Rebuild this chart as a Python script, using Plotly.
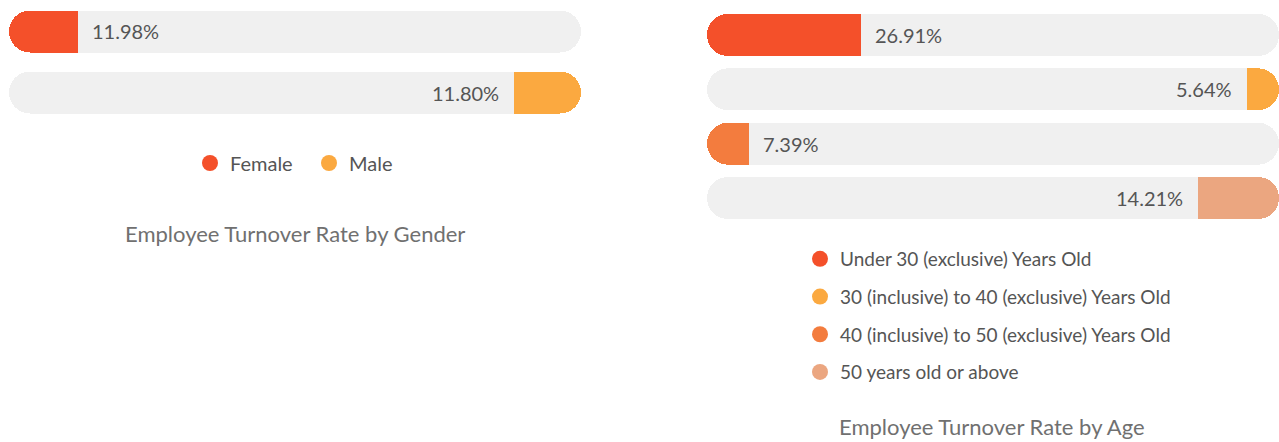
import plotly.graph_objects as go

# ---- data ----
gender_cats = ["Female", "Male"]
gender_vals = [11.98, 11.80]
gender_side = ["left", "right"]
gender_colors = ["#F4502A", "#FBA940"]

age_cats = [
    "Under 30 (exclusive) Years Old",
    "30 (inclusive) to 40 (exclusive) Years Old",
    "40 (inclusive) to 50 (exclusive) Years Old",
    "50 years old or above",
]
age_vals = [26.91, 5.64, 7.39, 14.21]
age_side = ["left", "right", "left", "right"]
age_colors = ["#F4502A", "#FBA940", "#F37C3E", "#EBA680"]

FULL = 100
TRACK = "#F0F0F0"
CLEAR = "rgba(0,0,0,0)"
TXT = "#555555"
FONT = "Lato"
W, H = 1279, 442

fig = go.Figure()


def bar(cats, vals, color, xa, ya, width):
    return go.Bar(y=cats, x=vals, orientation="h",
                  marker=dict(color=color, cornerradius="50%", line_width=0),
                  width=width, showlegend=False, hoverinfo="skip", xaxis=xa, yaxis=ya)


def add_panel(cats, vals, sides, colors, axes, ya, width, legend):
    # axes: (track right [normal], track left [reversed], bars right [normal], bars left [reversed])
    ax_tr, ax_tl, ax_br, ax_bl = axes
    half = FULL / 2
    n = len(cats)
    # track: each half is stacked after a clear spacer so only its outer end is rounded
    fig.add_trace(bar(cats, [half] * n, CLEAR, ax_tr, ya, width))
    fig.add_trace(bar(cats, [half] * n, TRACK, ax_tr, ya, width))
    fig.add_trace(bar(cats, [half] * n, CLEAR, ax_tl, ya, width))
    fig.add_trace(bar(cats, [half] * n, TRACK, ax_tl, ya, width))
    for c, v, s, col in zip(cats, vals, sides, colors):
        ax = ax_bl if s == "left" else ax_br
        fig.add_trace(bar([c], [FULL - v], CLEAR, ax, ya, width))
        fig.add_trace(bar([c], [v], col, ax, ya, width))
        if s == "left":
            fig.add_annotation(x=v, y=c, xref=ax_tr, yref=ya, text=f"{v:.2f}%",
                               showarrow=False, xanchor="left", xshift=12,
                               font=dict(family=FONT, size=20, color=TXT))
        else:
            fig.add_annotation(x=FULL - v, y=c, xref=ax_tr, yref=ya, text=f"{v:.2f}%",
                               showarrow=False, xanchor="right", xshift=-13,
                               font=dict(family=FONT, size=20, color=TXT))
        # legend entry
        fig.add_trace(go.Scatter(x=[None], y=[None], mode="markers", name=c,
                                 marker=dict(color=col, size=20, symbol="circle"),
                                 legend=legend, legendgroup=c, hoverinfo="skip",
                                 xaxis=ax_tr, yaxis=ya))


add_panel(gender_cats, gender_vals, gender_side, gender_colors,
          ("x", "x2", "x3", "x4"), "y", 42 / 61, "legend")
add_panel(age_cats, age_vals, age_side, age_colors,
          ("x5", "x6", "x7", "x8"), "y2", 42 / 54.33, "legend2")

ax = dict(showgrid=False, zeroline=False, showticklabels=False, showline=False, fixedrange=True)
fwd = [0, FULL]
rev = [FULL, 0]
fig.update_layout(
    width=W, height=H,
    margin=dict(l=0, r=0, t=0, b=0),
    paper_bgcolor="white", plot_bgcolor="white",
    barmode="stack",
    font=dict(family=FONT, color=TXT),
    xaxis=dict(domain=[9 / W, 581 / W], range=fwd, anchor="y", **ax),
    xaxis2=dict(overlaying="x", range=rev, anchor="y", **ax),
    xaxis3=dict(overlaying="x", range=fwd, anchor="y", **ax),
    xaxis4=dict(overlaying="x", range=rev, anchor="y", **ax),
    xaxis5=dict(domain=[707 / W, 1279 / W], range=fwd, anchor="y2", **ax),
    xaxis6=dict(overlaying="x5", range=rev, anchor="y2", **ax),
    xaxis7=dict(overlaying="x5", range=fwd, anchor="y2", **ax),
    xaxis8=dict(overlaying="x5", range=rev, anchor="y2", **ax),
    yaxis=dict(domain=[1 - 123 / H, 1 - 1 / H], type="category", categoryarray=gender_cats,
               range=[len(gender_cats) - 0.5, -0.5], anchor="x", **ax),
    yaxis2=dict(domain=[1 - 225.2 / H, 1 - 7.8 / H], type="category", categoryarray=age_cats,
                range=[len(age_cats) - 0.5, -0.5], anchor="x5", **ax),
    legend=dict(orientation="h", x=309 / W, xanchor="center", y=1 - 163 / H, yanchor="middle",
                font=dict(family=FONT, size=20, color=TXT), itemsizing="trace",
                entrywidth=74, entrywidthmode="pixels",
                bgcolor="rgba(0,0,0,0)", itemclick=False, itemdoubleclick=False),
    legend2=dict(orientation="v", x=800 / W, xanchor="left", y=1 - 240 / H, yanchor="top",
                 font=dict(family=FONT, size=19, color=TXT), itemsizing="trace",
                 traceorder="grouped", tracegroupgap=10,
                 bgcolor="rgba(0,0,0,0)", itemclick=False, itemdoubleclick=False),
    showlegend=True,
)

fig.add_annotation(text="Employee Turnover Rate by Gender", xref="paper", yref="paper",
                   x=295 / W, y=1 - 233 / H, showarrow=False, xanchor="center", yanchor="middle",
                   font=dict(family=FONT, size=22, color="#707070"))
fig.add_annotation(text="Employee Turnover Rate by Age", xref="paper", yref="paper",
                   x=992 / W, y=1 - 426 / H, showarrow=False, xanchor="center", yanchor="middle",
                   font=dict(family=FONT, size=22, color="#707070"))

fig.write_html("out.html")
